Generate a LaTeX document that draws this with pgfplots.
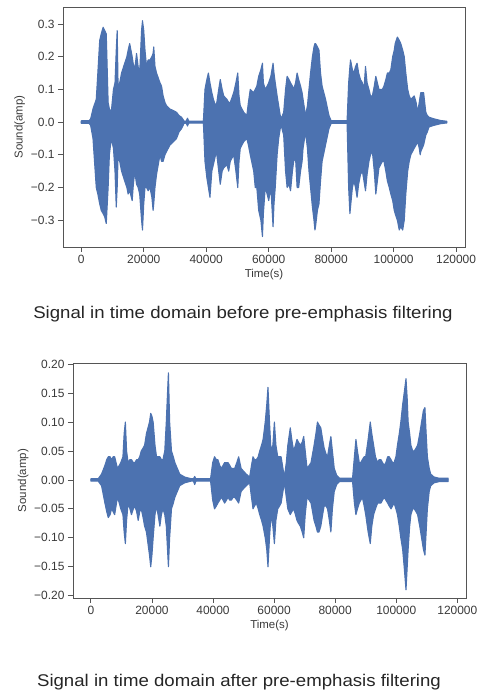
\documentclass[border=0pt]{standalone}
\usepackage{fontspec}
\setmainfont{Liberation Sans}
\usepackage{graphicx}
\usepackage{pgfplots}
\usepackage{pgfplotstable}
\pgfplotsset{compat=1.18}

\definecolor{sblue}{HTML}{4C72B0}
\definecolor{spine}{HTML}{555555}
\definecolor{tcol}{HTML}{3A3A3A}

% envelope of the waveform before filtering: x, upper, lower
\pgfplotstableread{
x hi lo
0 0.004 -0.004
2500 0.004 -0.004
3000 0.01 -0.01
3750 0.04 -0.05
4800 0.07 -0.2
5300 0.15 -0.22
5900 0.25 -0.25
6400 0.27 -0.27
7000 0.29 -0.28
7500 0.28 -0.29
8000 0.27 -0.31
8600 0.06 -0.2
9000 0.04 -0.1
9600 0.03 -0.05
10300 0.1 -0.08
10800 0.12 -0.15
11200 0.22 -0.26
11500 0.28 -0.2
11800 0.1 -0.1
12300 0.12 -0.12
12900 0.15 -0.15
13900 0.18 -0.18
14600 0.2 -0.2
15000 0.22 -0.22
15500 0.24 -0.21
16300 0.2 -0.24
16600 0.18 -0.2
17100 0.16 -0.15
17700 0.21 -0.19
18200 0.17 -0.2
18700 0.15 -0.22
19300 0.28 -0.3
19600 0.31 -0.33
20000 0.28 -0.25
20400 0.22 -0.2
20900 0.17 -0.2
21400 0.19 -0.21
22000 0.19 -0.2
22600 0.2 -0.23
23000 0.21 -0.27
23200 0.23 -0.25
23600 0.17 -0.2
24100 0.15 -0.16
25200 0.12 -0.1
25700 0.11 -0.12
26200 0.08 -0.12
26800 0.06 -0.1
27300 0.05 -0.09
28400 0.04 -0.07
29500 0.035 -0.06
30500 0.03 -0.05
31300 0.02 -0.03
32100 0.015 -0.02
32900 0.003 -0.004
33600 0.003 -0.003
34000 0.012 -0.012
34400 0.003 -0.003
39100 0.003 -0.003
39600 0.1 -0.12
40200 0.13 -0.17
40700 0.15 -0.2
41200 0.12 -0.23
41800 0.09 -0.15
42300 0.07 -0.13
43000 0.05 -0.1
43400 0.06 -0.1
44000 0.1 -0.15
44500 0.13 -0.19
45100 0.1 -0.15
45600 0.08 -0.14
46600 0.07 -0.13
47200 0.06 -0.15
47700 0.06 -0.12
48800 0.09 -0.1
49500 0.12 -0.15
50100 0.15 -0.2
50500 0.08 -0.12
50900 0.05 -0.08
52000 0.03 -0.06
53000 0.02 -0.05
53500 0.06 -0.07
54100 0.1 -0.1
55200 0.09 -0.15
55700 0.1 -0.2
56200 0.11 -0.2
56800 0.14 -0.27
57500 0.16 -0.3
58000 0.18 -0.35
58300 0.12 -0.28
58900 0.1 -0.2
59500 0.11 -0.22
60000 0.12 -0.24
60700 0.14 -0.2
61400 0.18 -0.32
61700 0.15 -0.25
62100 0.12 -0.2
62700 0.08 -0.1
63200 0.05 -0.05
63700 0.02 -0.02
64000 0.01 -0.01
64800 0.03 -0.04
65400 0.1 -0.15
65900 0.14 -0.2
66500 0.13 -0.19
67000 0.12 -0.21
67600 0.11 -0.15
68000 0.1 -0.12
68600 0.12 -0.11
69100 0.15 -0.2
69600 0.13 -0.2
70200 0.11 -0.15
70700 0.09 -0.12
71000 0.07 -0.08
71800 0.02 -0.03
72400 0.05 -0.08
72900 0.1 -0.15
73400 0.15 -0.2
74000 0.2 -0.26
74500 0.23 -0.3
74800 0.24 -0.33
75000 0.24 -0.32
75600 0.23 -0.27
76100 0.22 -0.25
76600 0.15 -0.18
77100 0.11 -0.12
78200 0.07 -0.07
79300 0.02 -0.02
80000 0.004 -0.004
85100 0.004 -0.004
85600 0.12 -0.2
86000 0.17 -0.28
86200 0.19 -0.26
86800 0.16 -0.2
87300 0.15 -0.18
87800 0.17 -0.2
88300 0.18 -0.23
88800 0.15 -0.19
89400 0.13 -0.16
90000 0.12 -0.15
90500 0.1 -0.18
91000 0.17 -0.21
91500 0.12 -0.16
92100 0.1 -0.12
92600 0.08 -0.1
93200 0.08 -0.09
93800 0.11 -0.15
94300 0.14 -0.22
94800 0.12 -0.18
95300 0.1 -0.14
96400 0.1 -0.12
96900 0.11 -0.12
97500 0.13 -0.15
98000 0.15 -0.18
98600 0.15 -0.2
99100 0.16 -0.22
99700 0.2 -0.24
100200 0.22 -0.27
100500 0.24 -0.28
101200 0.26 -0.3
101800 0.25 -0.33
102300 0.24 -0.32
102900 0.22 -0.33
103400 0.2 -0.3
103900 0.15 -0.22
104500 0.1 -0.15
105000 0.08 -0.12
105500 0.07 -0.1
106600 0.08 -0.08
107200 0.06 -0.07
107700 0.03 -0.06
108200 0.06 -0.08
108500 0.08 -0.1
108700 0.09 -0.09
109600 0.09 -0.07
110300 0.03 -0.04
110800 0.02 -0.03
111300 0.015 -0.015
112900 0.01 -0.01
115000 0.005 -0.005
116600 0.003 -0.003
117000 0.003 -0.003
}\before

% envelope after pre-emphasis
\pgfplotstableread{
x hi lo
0 0.002 -0.002
2400 0.002 -0.002
3500 0.01 -0.01
4600 0.025 -0.04
5200 0.035 -0.055
5700 0.04 -0.065
6300 0.04 -0.06
6800 0.035 -0.05
7300 0.04 -0.055
7800 0.04 -0.06
8700 0.02 -0.03
9300 0.025 -0.04
9800 0.03 -0.05
10500 0.04 -0.06
10900 0.08 -0.09
11300 0.1 -0.11
11700 0.05 -0.07
12200 0.03 -0.04
12800 0.035 -0.05
13300 0.035 -0.06
13900 0.03 -0.05
14400 0.03 -0.045
15000 0.035 -0.055
15500 0.035 -0.07
16000 0.04 -0.055
16500 0.05 -0.05
17100 0.055 -0.065
17600 0.06 -0.08
18200 0.08 -0.09
18700 0.09 -0.11
19200 0.1 -0.13
19600 0.115 -0.15
20000 0.11 -0.13
20400 0.1 -0.1
21000 0.06 -0.06
21500 0.04 -0.045
22000 0.04 -0.06
22600 0.04 -0.08
23100 0.035 -0.06
23600 0.035 -0.05
24200 0.05 -0.06
24700 0.1 -0.08
25100 0.15 -0.12
25400 0.185 -0.15
25800 0.1 -0.1
26400 0.05 -0.05
27000 0.04 -0.04
27500 0.03 -0.03
28300 0.02 -0.02
29100 0.01 -0.01
30700 0.005 -0.005
32900 0.002 -0.002
33600 0.002 -0.002
34000 0.006 -0.008
34400 0.002 -0.002
39200 0.002 -0.002
39900 0.03 -0.035
40500 0.04 -0.05
41100 0.035 -0.045
41600 0.035 -0.04
42200 0.025 -0.035
42700 0.02 -0.03
43300 0.025 -0.035
43800 0.03 -0.04
44400 0.03 -0.035
44900 0.03 -0.03
45500 0.025 -0.035
46000 0.02 -0.035
46600 0.02 -0.03
47100 0.02 -0.03
47800 0.03 -0.035
48400 0.04 -0.04
48800 0.03 -0.03
49200 0.02 -0.02
50000 0.015 -0.015
50900 0.01 -0.01
52000 0.005 -0.005
52600 0.025 -0.03
53100 0.04 -0.05
53600 0.035 -0.045
54200 0.035 -0.04
54800 0.04 -0.05
55300 0.05 -0.06
55900 0.06 -0.07
56400 0.07 -0.08
57100 0.1 -0.1
57600 0.13 -0.12
58000 0.16 -0.15
58500 0.1 -0.1
59000 0.05 -0.06
59600 0.06 -0.08
60100 0.1 -0.11
60600 0.06 -0.07
61200 0.04 -0.05
61800 0.04 -0.045
62300 0.04 -0.04
62900 0.02 -0.02
63400 0.005 -0.005
64000 0.03 -0.03
64500 0.06 -0.05
65300 0.09 -0.06
65800 0.07 -0.055
66400 0.05 -0.05
67000 0.06 -0.06
67500 0.07 -0.07
68000 0.065 -0.075
68600 0.06 -0.08
69200 0.065 -0.09
69700 0.075 -0.1
70200 0.05 -0.06
70800 0.02 -0.03
71500 0.025 -0.035
72100 0.03 -0.04
72600 0.045 -0.055
73100 0.06 -0.07
73700 0.08 -0.08
74200 0.1 -0.09
74700 0.095 -0.09
75300 0.09 -0.08
75900 0.07 -0.06
76400 0.055 -0.045
77000 0.045 -0.045
77500 0.04 -0.05
78100 0.06 -0.07
78600 0.075 -0.09
79100 0.05 -0.05
79700 0.02 -0.02
80500 0.008 -0.008
81400 0.003 -0.003
85700 0.003 -0.003
86300 0.04 -0.04
86800 0.07 -0.06
87300 0.05 -0.05
87900 0.03 -0.04
88400 0.03 -0.035
88900 0.035 -0.03
89500 0.04 -0.045
90000 0.04 -0.06
90800 0.07 -0.09
91500 0.1 -0.11
92000 0.08 -0.08
92600 0.06 -0.06
93200 0.04 -0.05
93900 0.03 -0.04
94400 0.035 -0.04
95000 0.035 -0.04
95500 0.03 -0.035
96100 0.025 -0.03
96600 0.03 -0.035
97200 0.04 -0.04
97700 0.04 -0.045
98300 0.035 -0.05
98800 0.03 -0.045
99300 0.03 -0.04
99900 0.04 -0.05
100400 0.06 -0.06
101000 0.08 -0.08
101500 0.1 -0.1
102100 0.13 -0.12
102600 0.15 -0.15
103200 0.175 -0.19
103600 0.14 -0.15
103900 0.1 -0.12
104400 0.08 -0.08
104800 0.06 -0.06
105400 0.05 -0.05
105900 0.05 -0.05
106500 0.055 -0.055
107000 0.06 -0.06
107700 0.08 -0.08
108300 0.1 -0.1
108900 0.12 -0.12
109400 0.125 -0.13
109800 0.08 -0.09
110200 0.04 -0.05
110800 0.02 -0.02
111300 0.01 -0.01
112400 0.005 -0.005
114000 0.003 -0.003
117000 0.003 -0.003
}\after

\pgfplotsset{
  wave/.style={
    scale only axis,
    xmin=-5850,xmax=122850,
    axis line style={draw=spine,line width=0.8pt},
    tick align=outside,xtick pos=bottom,ytick pos=left,
    major tick length=5bp,
    tick style={draw=spine,line width=0.8pt},
    scaled x ticks=false,
    xtick={0,20000,40000,60000,80000,100000,120000},
    xticklabels={0,20000,40000,60000,80000,100000,120000},
    ticklabel style={font=\fontsize{12}{14}\selectfont,text=tcol},
    label style={font=\fontsize{11.5}{14}\selectfont,text=tcol},
    xlabel={Time(s)},ylabel={Sound(amp)},
    xlabel style={yshift=2bp},
    ylabel style={yshift=-1bp},
  },
  env/.style={draw=sblue,fill=sblue,line width=1.1pt,line join=round},
}

\begin{document}
\begin{tikzpicture}
\path[use as bounding box] (0bp,0bp) rectangle (477bp,691bp);

\begin{axis}[wave,
  at={(63bp,444bp)},anchor=south west,width=402bp,height=240bp,
  ymin=-0.382,ymax=0.352,
  ytick={-0.3,-0.2,-0.1,0,0.1,0.2,0.3},
  yticklabels={−0.3,−0.2,−0.1,0.0,0.1,0.2,0.3},
]
\addplot[env] table[x=x,y=hi]{\before} \closedcycle;
\addplot[env] table[x=x,y=lo]{\before} \closedcycle;
\end{axis}

\node[anchor=base,font=\fontsize{17}{20}\selectfont,text=black!85]
  at (243bp,372bp) {\scalebox{1.1}[1]{Signal in time domain before pre-emphasis filtering}};

\begin{axis}[wave,
  at={(73bp,93bp)},anchor=south west,width=393bp,height=235bp,
  ymin=-0.204,ymax=0.202,
  ytick={-0.2,-0.15,-0.1,-0.05,0,0.05,0.1,0.15,0.2},
  yticklabels={−0.20,−0.15,−0.10,−0.05,0.00,0.05,0.10,0.15,0.20},
]
\addplot[env] table[x=x,y=hi]{\after} \closedcycle;
\addplot[env] table[x=x,y=lo]{\after} \closedcycle;
\end{axis}

\node[anchor=base,font=\fontsize{17}{20}\selectfont,text=black!85]
  at (239bp,5bp) {\scalebox{1.1}[1]{Signal in time domain after pre-emphasis filtering}};
\end{tikzpicture}
\end{document}
